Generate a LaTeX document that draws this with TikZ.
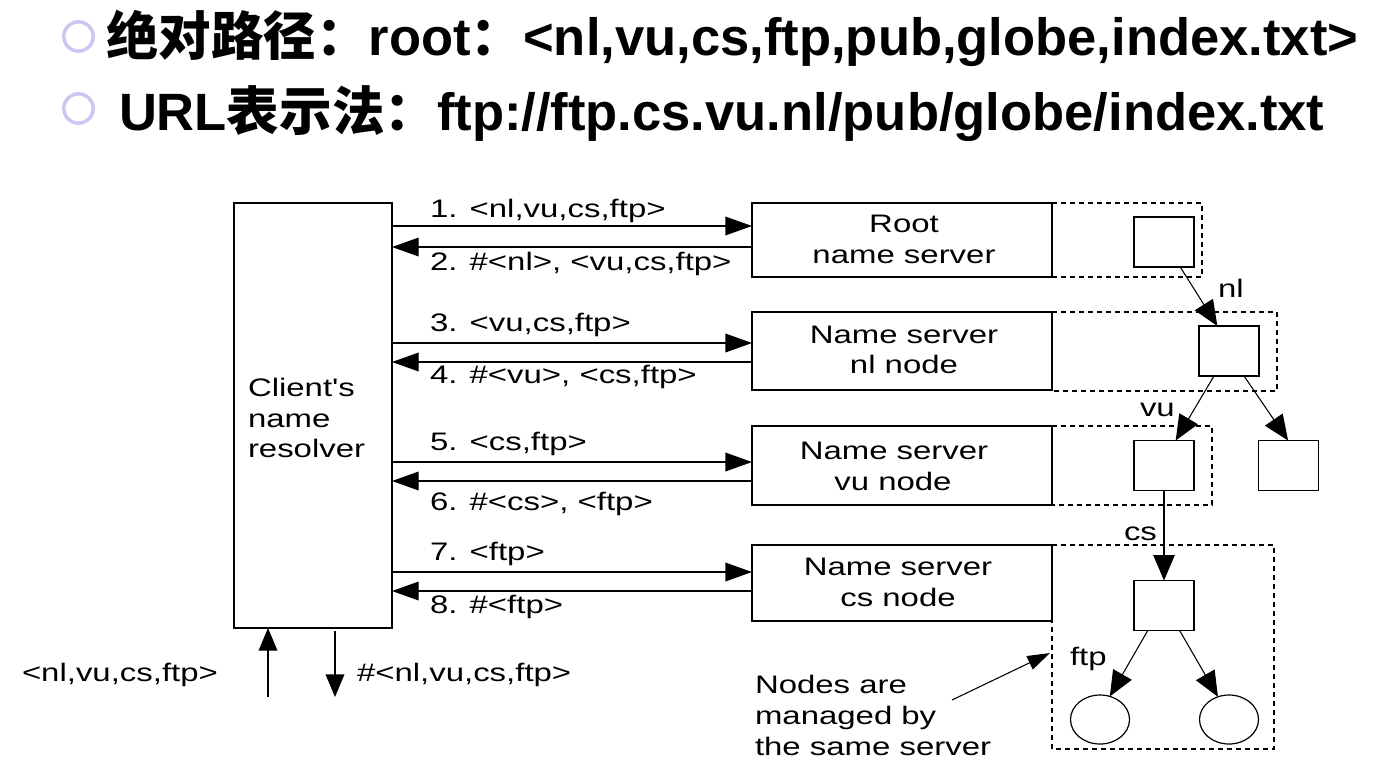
\documentclass[tikz,border=0pt]{standalone}
\usepackage{fontspec}
\setmainfont{Liberation Sans}
\newfontfamily\diag[FakeStretch=1.3]{Liberation Sans}
\newfontfamily\cjk{Noto Sans CJK SC}
\newcommand\dfont{\diag\fontsize{19}{23}\selectfont}
\usetikzlibrary{arrows.meta,shapes.geometric}
\definecolor{bul}{RGB}{200,200,245}
\begin{document}
\begin{tikzpicture}[x=0.75pt,y=-0.75pt,
  every node/.style={inner sep=0pt, outer sep=0pt},
  srv/.style={draw, line width=1pt, minimum width=225pt},
  sq/.style={draw, line width=1pt, minimum width=45pt, minimum height=37.5pt},
  leaf/.style={draw, ellipse, line width=0.9pt, minimum width=44.25pt, minimum height=36.75pt},
  lbl/.style={font=\dfont, anchor=base west},
  ctr/.style={font=\dfont, anchor=base},
  msg/.style={line width=1pt, -{Triangle[length=20pt,width=14pt]}},
  bot/.style={line width=1pt, -{Triangle[length=17pt,width=14pt]}},
  tedge/.style={line width=0.8pt, -{Triangle[length=19pt,width=16pt]}},
  note/.style={line width=0.8pt, -{Triangle[length=17pt,width=11pt]}},
  dbox/.style={line width=0.9pt, dash pattern=on 3.75pt off 3pt},
  bullet/.style={draw=bul, line width=2.6pt, circle, minimum size=22pt},
  title/.style={anchor=base west, font=\bfseries\fontsize{39.4}{46}\selectfont}
]
\useasboundingbox (0,0) rectangle (1398,775);
\fill[white] (0,0) rectangle (1398,775);

% title lines
\node[bullet] (b1) at (78.5,36.5) {};
\node[bullet] (b2) at (78.5,108.5) {};
\node[title] (t1) at (106,55) {{\cjk\bfseries 绝对路径：}root{\cjk\bfseries ：}<nl,vu,cs,ftp,pub,globe,index.txt>};
\node[title] (t2) at (119,130) {URL{\cjk\bfseries 表示法：}ftp://ftp.cs.vu.nl/pub/globe/index.txt};

% client
\node[draw, line width=1pt, minimum width=118.5pt, minimum height=318.75pt] (client) at (313,415.5) {};
\node[lbl] (cl1) at (248,396) {Client's};
\node[lbl] (cl2) at (248,427) {name};
\node[lbl] (cl3) at (248,457) {resolver};

% servers
\node[srv, minimum height=55.5pt] (root) at (902,240) {};
\node[srv, minimum height=58.5pt] (nl) at (902,351) {};
\node[srv, minimum height=59.25pt] (vu) at (902,465.5) {};
\node[srv, minimum height=57pt] (cs) at (902,583) {};
\node[ctr] (rt1) at (904,232) {Root};
\node[ctr] (rt2) at (904,263) {name server};
\node[ctr] (nt1) at (904,343) {Name server};
\node[ctr] (nt2) at (904,373) {nl node};
\node[ctr] (vt1) at (894,459) {Name server};
\node[ctr] (vt2) at (893,490) {vu node};
\node[ctr] (ct1) at (898,575) {Name server};
\node[ctr] (ct2) at (898,606) {cs node};

% dashed zones
\draw[dbox] (1052,203) -- (1202,203) -- (1202,277) -- (1052,277);
\draw[dbox] (1052,312) -- (1277,312) -- (1277,391) -- (1052,391);
\draw[dbox] (1052,426) -- (1212,426) -- (1212,505) -- (1052,505);
\draw[dbox] (1052,545) -- (1274,545) -- (1274,749) -- (1052,749) -- (1052,621);

% message levels
\coordinate (y1) at (0,226);
\coordinate (y2) at (0,247);
\coordinate (y3) at (0,343);
\coordinate (y4) at (0,362);
\coordinate (y5) at (0,462);
\coordinate (y6) at (0,481);
\coordinate (y7) at (0,572);
\coordinate (y8) at (0,591);
\draw[msg] (client.east |- y1) -- (root.west |- y1);
\draw[msg] (root.west |- y2) -- (client.east |- y2);
\draw[msg] (client.east |- y3) -- (nl.west |- y3);
\draw[msg] (nl.west |- y4) -- (client.east |- y4);
\draw[msg] (client.east |- y5) -- (vu.west |- y5);
\draw[msg] (vu.west |- y6) -- (client.east |- y6);
\draw[msg] (client.east |- y7) -- (cs.west |- y7);
\draw[msg] (cs.west |- y8) -- (client.east |- y8);
\node[lbl] (m1) at (430,217) {1. <nl,vu,cs,ftp>};
\node[lbl] (m2) at (430,270) {2. \#<nl>, <vu,cs,ftp>};
\node[lbl] (m3) at (430,331) {3. <vu,cs,ftp>};
\node[lbl] (m4) at (430,383) {4. \#<vu>, <cs,ftp>};
\node[lbl] (m5) at (430,450) {5. <cs,ftp>};
\node[lbl] (m6) at (430,510) {6. \#<cs>, <ftp>};
\node[lbl] (m7) at (430,560) {7. <ftp>};
\node[lbl] (m8) at (430,613) {8. \#<ftp>};

% bottom in/out
\coordinate (inb) at (268,697);
\coordinate (outb) at (335,697);
\coordinate (outt) at (335,631);
\draw[bot] (inb) -- (inb |- client.south);
\draw[bot] (outt) -- (outb);
\node[lbl] (inl) at (22,681) {<nl,vu,cs,ftp>};
\node[lbl] (outl) at (357,681) {\#<nl,vu,cs,ftp>};

% tree
\node[sq] (r0) at (1164,242) {};
\node[sq] (n1) at (1229,351) {};
\node[sq] (v1) at (1164,465.5) {};
\node[sq] (v2) at (1288.5,465.5) {};
\node[sq] (c1) at (1164,605.5) {};
\node[leaf] (e1) at (1100,719.5) {};
\node[leaf] (e2) at (1229,719.5) {};
\draw[tedge] (r0.-57) -- (n1.115);
\draw[tedge] (n1.-121) -- (v1.65);
\draw[tedge] (n1.-59) -- (v2.91);
\draw[tedge] (v1.south) -- (c1.north);
\draw[tedge] (c1.-123) -- (e1.67);
\draw[tedge] (c1.-58) -- (e2.116);
\node[lbl] (lnl) at (1218,297) {nl};
\node[lbl] (lvu) at (1140,416) {vu};
\node[lbl] (lcs) at (1124,540) {cs};
\node[lbl] (lftp) at (1070,665) {ftp};

% note
\node[lbl] (na1) at (755,693) {Nodes are};
\node[lbl] (na2) at (755,724) {managed by};
\node[lbl] (na3) at (755,755) {the same server};
\coordinate (nA) at (952,700);
\coordinate (nB) at (1050,653);
\draw[note] (nA) -- (nB);
\end{tikzpicture}
\end{document}
